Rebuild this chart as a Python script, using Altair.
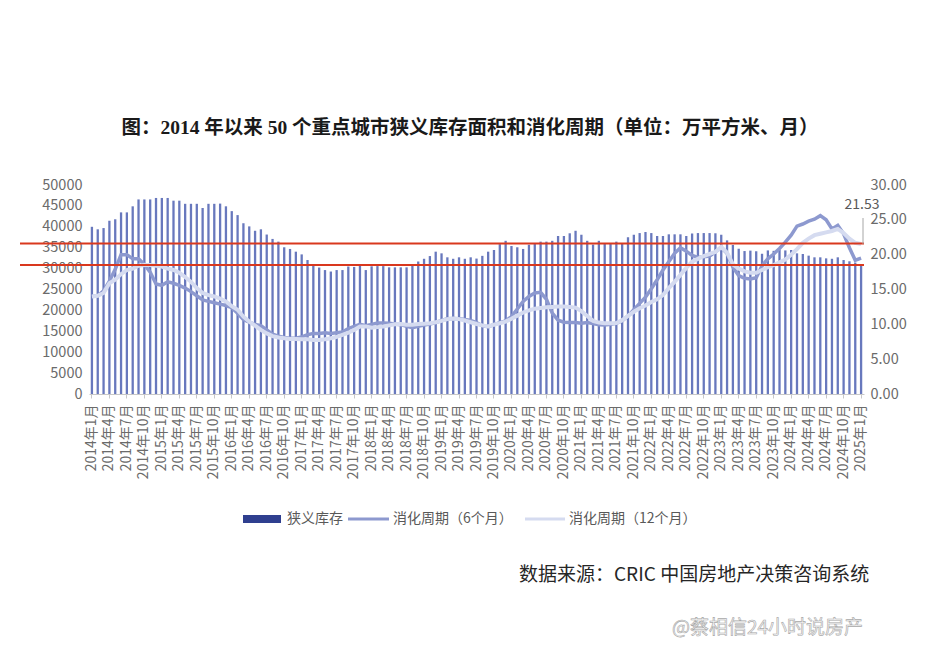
import altair as alt
import pandas as pd

# ---------------- data ----------------
months = [f"{y}年{m}月" for y in range(2014, 2026) for m in range(1, 13)][:133]
tick_labels = months[::3]

inventory = [
    40000, 39400, 39700, 41450, 41800, 43450, 43450, 44900, 46550, 46550,
    46550, 46900, 46900, 46900, 46250, 46250, 45500, 45500, 45500, 44500,
    45500, 45500, 45550, 44900, 43750, 42800, 40850, 40100, 39050, 39400,
    38150, 37100, 36450, 35100, 34700, 34050, 33400, 32050, 30750, 30250,
    29650, 29300, 29650, 29650, 30500, 30400, 30750, 29650, 30550, 30600,
    30600, 30300, 30300, 30300, 30300, 30750, 31700, 32350, 33000, 34050,
    33650, 32700, 32350, 32700, 32350, 32700, 32400, 33050, 34050, 34450,
    35850, 36650, 35400, 35100, 34700, 35700, 36100, 36450, 36450, 36650,
    37800, 37800, 38450, 39050, 38100, 36650, 35750, 36650, 36000, 35950,
    36450, 36050, 37500, 38100, 38500, 38750, 38500, 37800, 37800, 38200,
    38200, 38200, 37800, 38400, 38500, 38500, 38500, 38450, 38100, 36750,
    35650, 34750, 34200, 34300, 34150, 33550, 34350, 34250, 34450, 34350,
    34450, 33650, 33500, 33100, 32700, 32700, 32450, 32350, 32700, 32050,
    31750, 31450, 31100,
]

cycle6 = [
    14.0, 14.1, 14.8, 16.2, 17.9, 20.0, 20.0, 19.4, 19.4, 18.6,
    17.5, 15.8, 15.6, 16.1, 15.9, 15.6, 15.2, 14.7, 14.1, 13.5,
    13.3, 13.1, 12.9, 12.7, 12.4, 11.6, 10.7, 10.3, 10.0, 9.8,
    9.2, 8.6, 8.3, 8.1, 8.0, 8.0, 8.2, 8.5, 8.7, 8.7,
    8.8, 8.7, 8.8, 8.9, 9.4, 9.7, 10.0, 9.8, 10.0, 10.2,
    10.2, 10.15, 10.05, 9.95, 9.7, 9.5, 9.7, 9.9, 10.05, 10.25,
    10.55, 10.8, 10.85, 10.8, 10.7, 10.55, 10.25, 9.8, 9.65, 9.95,
    10.25, 10.5, 11.1, 12.2, 13.3, 14.0, 14.5, 14.6, 13.6, 11.6,
    10.6, 10.3, 10.25, 10.25, 10.15, 10.25, 10.1, 9.95, 9.9, 10.0,
    10.15, 10.5, 11.2, 12.1, 13.0, 13.9, 15.1, 16.4, 17.8, 19.0,
    20.2, 21.0, 20.5, 19.9, 19.6, 19.7, 19.8, 20.4, 21.0, 20.2,
    18.2, 17.0, 16.6, 16.5, 16.7, 18.4, 19.4, 20.1, 20.9, 21.8,
    22.8, 24.1, 24.4, 24.8, 25.1, 25.6, 25.0, 23.7, 24.2, 23.0,
    21.0, 19.2, 19.5,
]

cycle12 = [
    14.0, 14.1, 14.5, 15.9, 16.4, 17.2, 17.8, 18.0, 18.4, 18.5,
    18.5, 18.4, 18.3, 18.0, 17.8, 17.4, 16.8, 16.1, 15.2, 14.5,
    14.2, 14.0, 13.7, 13.3, 12.6, 12.1, 11.1, 10.4, 9.8, 9.2,
    8.7, 8.3, 8.1, 8.0, 7.9, 7.9, 7.85, 7.85, 7.75, 7.75,
    7.85, 8.0, 8.2, 8.5, 8.8, 9.2, 9.7, 9.7, 9.5, 9.6,
    9.7, 9.85, 10.0, 10.05, 9.95, 9.95, 10.05, 10.1, 10.15, 10.3,
    10.5, 10.75, 10.85, 10.75, 10.55, 10.3, 10.05, 9.85, 9.7, 9.95,
    10.15, 10.4, 10.8, 11.25, 11.7, 12.0, 12.25, 12.35, 12.45, 12.5,
    12.55, 12.55, 12.5, 12.4, 11.9, 11.2, 10.5, 10.25, 10.15, 10.15,
    10.2, 10.6, 11.2, 11.8, 12.3, 12.7, 13.2, 13.6, 14.2, 15.2,
    16.1, 17.1, 18.1, 19.0, 19.4, 19.8, 20.1, 20.4, 21.1, 20.3,
    18.6, 18.0, 17.6, 17.4, 17.4, 17.8, 18.2, 18.5, 18.9, 19.3,
    20.0, 20.8, 21.7, 22.3, 22.8, 23.0, 23.2, 23.4, 23.7, 23.1,
    22.3, 21.7, 21.53,
]

left_ticks = [0, 5000, 10000, 15000, 20000, 25000, 30000, 35000, 40000, 45000, 50000]
right_ticks = [0, 5, 10, 15, 20, 25, 30]
red_levels = [21.6, 18.5]
end_label = cycle12[-1]

title_text = "图：2014 年以来 50 个重点城市狭义库存面积和消化周期（单位：万平方米、月）"
source_text = "数据来源：CRIC 中国房地产决策咨询系统"
watermark_text = "@蔡相信24小时说房产"
legend_names = ["狭义库存", "消化周期（6个月）", "消化周期（12个月）"]

# ---------------- styles ----------------
FONT = "Noto Sans CJK SC"
LABEL_COLOR = "#6b6b6b"
BAR_COLOR = "#6878bd"
LEGEND_BAR = "#2f3f8f"
C6_COLOR = "#8d99cf"
C12_COLOR = "#d5dbf0"
RED = "#d9381e"

df = pd.DataFrame({"month": months, "inv": inventory, "c6": cycle6, "c12": cycle12})

x_enc = alt.X(
    "month:O",
    sort=None,
    scale=alt.Scale(paddingInner=0, paddingOuter=0),
    axis=alt.Axis(
        values=tick_labels, labelAngle=-90, title=None, grid=False,
        labelFont=FONT, labelFontSize=14, labelColor=LABEL_COLOR,
        tickColor="#c8c8c8", domainColor="#c8c8c8", tickSize=4, labelPadding=6,
    ),
)

base = alt.Chart(df)

bars = base.mark_bar(size=2.3, color=BAR_COLOR).encode(
    x=x_enc,
    y=alt.Y(
        "inv:Q",
        scale=alt.Scale(domain=[0, 50000]),
        axis=alt.Axis(
            values=left_ticks, format="d", title=None, grid=False, domain=False, ticks=False,
            labelFont=FONT, labelFontSize=14.5, labelColor=LABEL_COLOR, labelPadding=7,
        ),
    ),
)

right_axis = alt.Axis(
    orient="right", values=right_ticks, format=".2f", title=None, grid=False,
    domain=False, ticks=False, labelFont=FONT, labelFontSize=14.5,
    labelColor=LABEL_COLOR, labelPadding=6,
)
rscale = alt.Scale(domain=[0, 30])

line6 = base.mark_line(color=C6_COLOR, strokeWidth=3.5).encode(
    x=alt.X("month:O", sort=None),
    y=alt.Y("c6:Q", scale=rscale, axis=right_axis),
)
line12 = base.mark_line(color=C12_COLOR, strokeWidth=4).encode(
    x=alt.X("month:O", sort=None),
    y=alt.Y("c12:Q", scale=rscale, axis=right_axis),
)

red = alt.Chart(pd.DataFrame({"v": red_levels})).mark_rule(color=RED, strokeWidth=2).encode(
    y=alt.Y("v:Q", scale=rscale, axis=right_axis),
    x=alt.value(-69),
    x2=alt.value(775),
)

leader = alt.Chart(pd.DataFrame({"v": [end_label]})).mark_rule(color="#a6a6a6", strokeWidth=1).encode(
    y=alt.Y("v:Q", scale=rscale, axis=right_axis),
    y2=alt.value(33),
    x=alt.value(774),
)
end_text = alt.Chart(pd.DataFrame({"t": [f"{end_label:.2f}"]})).mark_text(
    font=FONT, fontSize=14, color="#595959", align="center", baseline="middle"
).encode(x=alt.value(773), y=alt.value(20), text="t:N")

right_layer = alt.layer(line6, line12, red, leader, end_text)


def txt(t, x, y, size, color, align="left", weight="normal", font=FONT, **kw):
    return alt.Chart(pd.DataFrame({"t": [t]})).mark_text(
        font=font, fontSize=size, color=color, align=align, baseline="middle",
        fontWeight=weight, **kw
    ).encode(x=alt.value(x), y=alt.value(y), text="t:N")


title = txt(title_text, 381, -57, 19.5, "#1a1a1a", align="center", weight="bold",
            font="Liberation Serif, Noto Sans CJK SC")
source = txt(source_text, 430, 390, 19, "#262626")
watermark = txt(watermark_text, 583, 443, 19, "#f7f7f7", stroke="#a8a8a8", strokeWidth=0.6)

leg_rect = alt.Chart(pd.DataFrame({"t": [legend_names[0]]})).mark_rect(color=LEGEND_BAR).encode(
    x=alt.value(154), x2=alt.value(192), y=alt.value(330), y2=alt.value(338)
)
leg_l6 = alt.Chart(pd.DataFrame({"t": [legend_names[1]]})).mark_rule(color=C6_COLOR, strokeWidth=3).encode(
    x=alt.value(259), x2=alt.value(300), y=alt.value(334)
)
leg_l12 = alt.Chart(pd.DataFrame({"t": [legend_names[2]]})).mark_rule(color=C12_COLOR, strokeWidth=3).encode(
    x=alt.value(436), x2=alt.value(476), y=alt.value(334)
)
leg_t1 = txt(legend_names[0], 198, 334, 14, "#595959")
leg_t2 = txt(legend_names[1], 304, 334, 14, "#595959")
leg_t3 = txt(legend_names[2], 480, 334, 14, "#595959")

chart = alt.layer(
    bars, right_layer,
    title, source, watermark,
    leg_rect, leg_l6, leg_l12, leg_t1, leg_t2, leg_t3,
).resolve_scale(y="independent").properties(
    width=775, height=209,
    autosize=alt.AutoSizeParams(type="none"),
    padding={"left": 81, "top": 177, "right": 64, "bottom": 244},
    background="white",
).configure_view(stroke=None)

chart.save("out.html", embed_options={"renderer": "svg", "actions": False})
